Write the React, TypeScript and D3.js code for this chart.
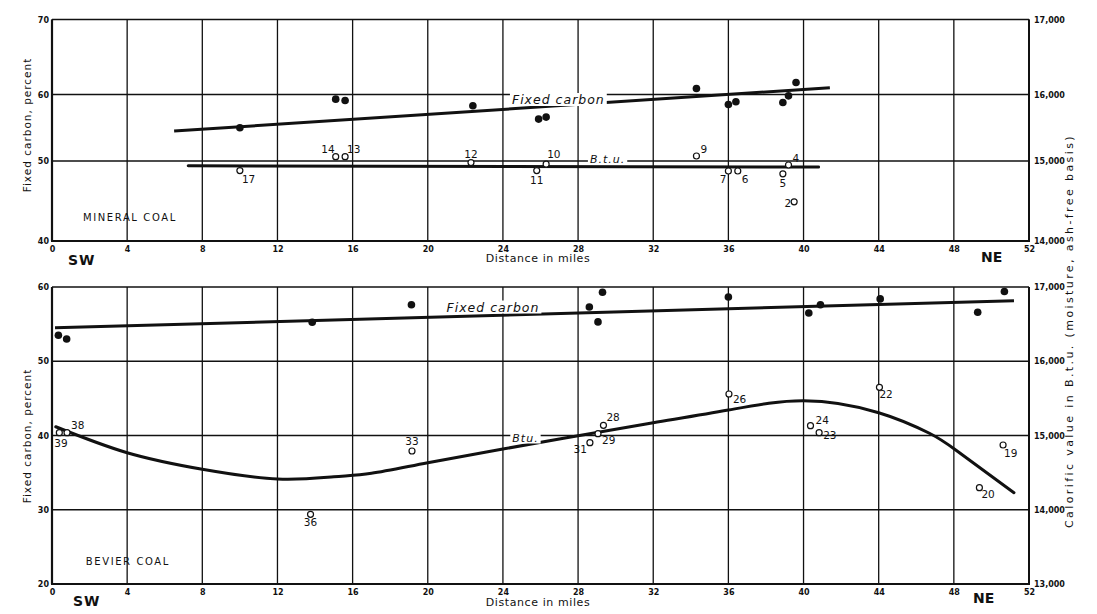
import React, { useEffect, useRef } from 'react';
import * as d3 from 'd3';

const W = 1097;
const H = 614;

// distance along the section, miles
const distTicks = [0, 4, 8, 12, 16, 20, 24, 28, 32, 36, 40, 44, 48, 52];

// Mineral coal (upper panel)
const mineralFcTicks = [40, 50, 60, 70];
const mineralBtuTicks = [14000, 15000, 16000, 17000];
const mineralFcDist = [10.0, 15.1, 15.6, 22.4, 25.9, 26.3, 34.3, 36.0, 36.4, 38.9, 39.2, 39.6];
const mineralFc = [55.0, 59.3, 59.1, 58.3, 56.3, 56.6, 60.8, 58.5, 58.9, 58.8, 59.8, 61.6];
const mineralBtuIds = ['17', '14', '13', '12', '11', '10', '9', '7', '6', '5', '4', '2'];
const mineralBtuDist = [10.0, 15.1, 15.6, 22.3, 25.8, 26.3, 34.3, 36.0, 36.5, 38.9, 39.2, 39.5];
const mineralBtu = [14880, 15065, 15065, 14980, 14880, 14960, 15075, 14875, 14875, 14840, 14950, 14490];
const mineralFcTrendDist = [6.5, 41.4];
const mineralFcTrend = [54.5, 60.9];
const mineralBtuTrendDist = [7.25, 40.8];
const mineralBtuTrend = [14940, 14925];

// Bevier coal (lower panel)
const bevierFcTicks = [20, 30, 40, 50, 60];
const bevierBtuTicks = [13000, 14000, 15000, 16000, 17000];
const bevierFcDist = [0.34, 0.78, 13.85, 19.13, 28.6, 29.3, 29.06, 36.0, 40.28, 40.9, 44.08, 49.27, 50.69];
const bevierFc = [53.5, 53.0, 55.25, 57.6, 57.3, 59.3, 55.3, 58.65, 56.5, 57.6, 58.4, 56.6, 59.4];
const bevierBtuIds = ['39', '38', '36', '33', '31', '29', '28', '26', '24', '23', '22', '19', '20'];
const bevierBtuDist = [0.39, 0.8, 13.76, 19.16, 28.63, 29.06, 29.35, 36.03, 40.37, 40.83, 44.04, 50.62, 49.36];
const bevierBtu = [15038, 15038, 13939, 14791, 14903, 15024, 15137, 15559, 15132, 15038, 15649, 14872, 14297];
const bevierFcTrendDist = [0.16, 51.2];
const bevierFcTrend = [54.5, 58.15];
const bevierBtuCurveDist = [0.2, 4, 8, 12, 15, 17, 20, 24, 28, 32, 36, 40, 44, 46.7, 48.1, 51.2];
const bevierBtuCurve = [15118, 14768, 14545, 14414, 14445, 14491, 14634, 14818, 14997, 15172, 15343, 15468, 15307, 15030, 14805, 14230];

// where each sample number sits relative to its circle: dx, dy, anchor
const labelPlace: Record<string, [number, number, string]> = {
    '17': [2, 12, 'start'], '14': [-1, -4, 'end'], '13': [2, -4, 'start'], '12': [0, -5, 'middle'],
    '11': [0, 13, 'middle'], '10': [1, -6, 'start'], '9': [4, -3, 'start'], '7': [-2, 12, 'end'],
    '6': [4, 12, 'start'], '5': [0, 13, 'middle'], '4': [4, -3, 'start'], '2': [-3, 5, 'end'],
    '39': [-5, 14, 'start'], '38': [4, -4, 'start'], '36': [0, 12, 'middle'], '33': [0, -6, 'middle'],
    '31': [-3, 10, 'end'], '29': [4, 10, 'start'], '28': [3, -4, 'start'], '26': [4, 9, 'start'],
    '24': [5, -2, 'start'], '23': [4, 6, 'start'], '22': [0, 11, 'start'], '19': [1, 12, 'start'],
    '20': [2, 10, 'start']
};

const FONT = '"DejaVu Sans", "Liberation Sans", sans-serif';
const INK = '#111';

const x = d3.scaleLinear().domain([0, 52]).range([52, 1029]);

const panels = [
    {
        name: 'MINERAL COAL',
        top: 19.5,
        bottom: 241,
        fcTicks: mineralFcTicks,
        btuTicks: mineralBtuTicks,
        fcRange: [241, 161, 94.5, 19.5],
        fcDist: mineralFcDist, fc: mineralFc,
        btuIds: mineralBtuIds, btuDist: mineralBtuDist, btu: mineralBtu,
        fcTrend: d3.zip(mineralFcTrendDist, mineralFcTrend),
        btuTrend: d3.zip(mineralBtuTrendDist, mineralBtuTrend),
        btuCurve: d3.curveLinear,
        fcLabel: [24.48, 58.57], btuLabel: [28.63, 14981], btuText: 'B.t.u.',
        nameAt: [1.65, 42.5],
        titleY: 125, swDy: 24, neDy: 21, distDy: 21, swX: 68, neX: 981
    },
    {
        name: 'BEVIER COAL',
        top: 287,
        bottom: 584,
        fcTicks: bevierFcTicks,
        btuTicks: bevierBtuTicks,
        fcRange: [584, 287],
        fcDist: bevierFcDist, fc: bevierFc,
        btuIds: bevierBtuIds, btuDist: bevierBtuDist, btu: bevierBtu,
        fcTrend: d3.zip(bevierFcTrendDist, bevierFcTrend),
        btuTrend: d3.zip(bevierBtuCurveDist, bevierBtuCurve),
        btuCurve: d3.curveNatural,
        fcLabel: [21.0, 56.7], btuLabel: [24.5, 14919], btuText: 'Btu.',
        nameAt: [1.8, 22.6],
        titleY: 436, swDy: 22, neDy: 19, distDy: 22, swX: 73, neX: 973
    }
];

function drawPanel(svg, p) {
    const fcDomain = p.fcRange.length === 2 ? [p.fcTicks[0], p.fcTicks[p.fcTicks.length - 1]] : p.fcTicks;
    const btuDomain = p.fcRange.length === 2 ? [p.btuTicks[0], p.btuTicks[p.btuTicks.length - 1]] : p.btuTicks;
    const yFc = d3.scaleLinear().domain(fcDomain).range(p.fcRange);
    const yBtu = d3.scaleLinear().domain(btuDomain).range(p.fcRange);

    const g = svg.append('g');

    g.append('rect')
        .attr('x', x(0)).attr('y', p.top)
        .attr('width', x(52) - x(0)).attr('height', p.bottom - p.top)
        .attr('fill', 'white');

    // grid
    g.append('g').selectAll('line').data(distTicks).join('line')
        .attr('x1', (d) => x(d)).attr('x2', (d) => x(d))
        .attr('y1', p.top).attr('y2', p.bottom)
        .attr('stroke', INK).attr('stroke-width', 1.3);
    g.append('g').selectAll('line').data(p.fcTicks).join('line')
        .attr('x1', x(0)).attr('x2', x(52))
        .attr('y1', (d) => yFc(d)).attr('y2', (d) => yFc(d))
        .attr('stroke', INK).attr('stroke-width', 1.3);

    // frame, heavier on left, right and bottom
    g.append('line').attr('x1', x(0)).attr('x2', x(0)).attr('y1', p.top).attr('y2', p.bottom)
        .attr('stroke', INK).attr('stroke-width', 2.2);
    g.append('line').attr('x1', x(52)).attr('x2', x(52)).attr('y1', p.top).attr('y2', p.bottom)
        .attr('stroke', INK).attr('stroke-width', 2);
    g.append('line').attr('x1', x(0) - 1).attr('x2', x(52) + 1).attr('y1', p.bottom).attr('y2', p.bottom)
        .attr('stroke', INK).attr('stroke-width', 2.2);

    // axes
    const axX = g.append('g')
        .attr('transform', `translate(0, ${p.bottom})`)
        .call(d3.axisBottom(x).tickValues(distTicks).tickSize(0).tickPadding(5).tickFormat(d3.format('d')));
    const axL = g.append('g')
        .attr('transform', `translate(${x(0) - 1}, 0)`)
        .call(d3.axisLeft(yFc).tickValues(p.fcTicks).tickSize(0).tickPadding(2));
    const axR = g.append('g')
        .attr('transform', `translate(${x(52) + 2}, 0)`)
        .call(d3.axisRight(yBtu).tickValues(p.btuTicks).tickSize(0).tickPadding(3).tickFormat(d3.format(',')));
    [axX, axL, axR].forEach((a) => {
        a.select('.domain').remove();
        a.selectAll('text')
            .attr('fill', INK)
            .style('font-family', FONT)
            .style('font-size', '8px')
            .style('font-weight', 'bold');
    });

    // fixed carbon trend and btu line
    const line = d3.line().x((d) => x(d[0]));
    g.append('path')
        .datum(p.fcTrend)
        .attr('fill', 'none').attr('stroke', INK).attr('stroke-width', 3)
        .attr('d', line.y((d) => yFc(d[1])));
    g.append('path')
        .datum(p.btuTrend)
        .attr('fill', 'none').attr('stroke', INK).attr('stroke-width', 3)
        .attr('stroke-linecap', 'round')
        .attr('d', d3.line().curve(p.btuCurve).x((d) => x(d[0])).y((d) => yBtu(d[1])));

    // curve annotations with white knock-out
    const annot = (at, txt, size, scale) => {
        const t = g.append('text')
            .attr('x', x(at[0])).attr('y', scale(at[1]))
            .attr('fill', INK)
            .style('font-family', FONT).style('font-style', 'italic')
            .style('font-size', size + 'px').style('letter-spacing', '1px')
            .text(txt);
        const b = t.node().getBBox();
        g.insert('rect', () => t.node())
            .attr('x', b.x - 2).attr('y', b.y + 1).attr('width', b.width + 4).attr('height', b.height - 2)
            .attr('fill', 'white');
    };
    annot(p.fcLabel, 'Fixed carbon', 12.5, yFc);
    annot(p.btuLabel, p.btuText, 11, yBtu);

    // fixed carbon samples
    g.append('g').selectAll('circle').data(d3.zip(p.fcDist, p.fc)).join('circle')
        .attr('cx', (d) => x(d[0])).attr('cy', (d) => yFc(d[1]))
        .attr('r', 3.8).attr('fill', INK);

    // btu samples
    const btuPts = p.btuIds.map((id, i) => ({ id, d: p.btuDist[i], v: p.btu[i] }));
    g.append('g').selectAll('circle').data(btuPts).join('circle')
        .attr('cx', (d) => x(d.d)).attr('cy', (d) => yBtu(d.v))
        .attr('r', 3).attr('fill', 'white').attr('stroke', INK).attr('stroke-width', 1.2);
    g.append('g').selectAll('text').data(btuPts).join('text')
        .attr('x', (d) => x(d.d) + labelPlace[d.id][0])
        .attr('y', (d) => yBtu(d.v) + labelPlace[d.id][1])
        .attr('text-anchor', (d) => labelPlace[d.id][2])
        .attr('fill', INK)
        .style('font-family', FONT).style('font-size', '10.5px')
        .text((d) => d.id);

    // panel name
    g.append('text')
        .attr('x', x(p.nameAt[0])).attr('y', yFc(p.nameAt[1]))
        .attr('fill', INK)
        .style('font-family', FONT).style('font-size', '10px').style('letter-spacing', '1.6px')
        .text(p.name);

    // SW / NE and distance title
    g.append('text')
        .attr('x', p.swX).attr('y', p.bottom + p.swDy)
        .attr('fill', INK)
        .style('font-family', FONT).style('font-size', '14px').style('font-weight', 'bold')
        .style('letter-spacing', '1px')
        .text('SW');
    g.append('text')
        .attr('x', p.neX).attr('y', p.bottom + p.neDy)
        .attr('fill', INK)
        .style('font-family', FONT).style('font-size', '14px').style('font-weight', 'bold')
        .text('NE');
    g.append('text')
        .attr('x', 538).attr('y', p.bottom + p.distDy)
        .attr('text-anchor', 'middle')
        .attr('fill', INK)
        .style('font-family', FONT).style('font-size', '11px').style('letter-spacing', '0.6px')
        .text('Distance in miles');

    g.append('text')
        .attr('transform', `translate(31, ${p.titleY}) rotate(-90)`)
        .attr('text-anchor', 'middle')
        .attr('fill', INK)
        .style('font-family', FONT).style('font-size', '10.5px').style('letter-spacing', '1px')
        .text('Fixed carbon, percent');
}

export default function App() {
    const ref = useRef(null);

    useEffect(() => {
        const svg = d3.select(ref.current);
        svg.selectAll('*').remove();

        svg.append('rect').attr('width', W).attr('height', H).attr('fill', 'white');

        panels.forEach((p) => drawPanel(svg, p));

        svg.append('text')
            .attr('transform', 'translate(1073, 331) rotate(-90)')
            .attr('text-anchor', 'middle')
            .attr('fill', INK)
            .style('font-family', FONT).style('font-size', '11px').style('letter-spacing', '2.4px')
            .text('Calorific value in B.t.u. (moisture, ash-free basis)');
    }, []);

    return (
        <svg ref={ref} width={W} height={H}
            style={{ position: 'absolute', left: 0, top: 0, display: 'block' }} />
    );
}
